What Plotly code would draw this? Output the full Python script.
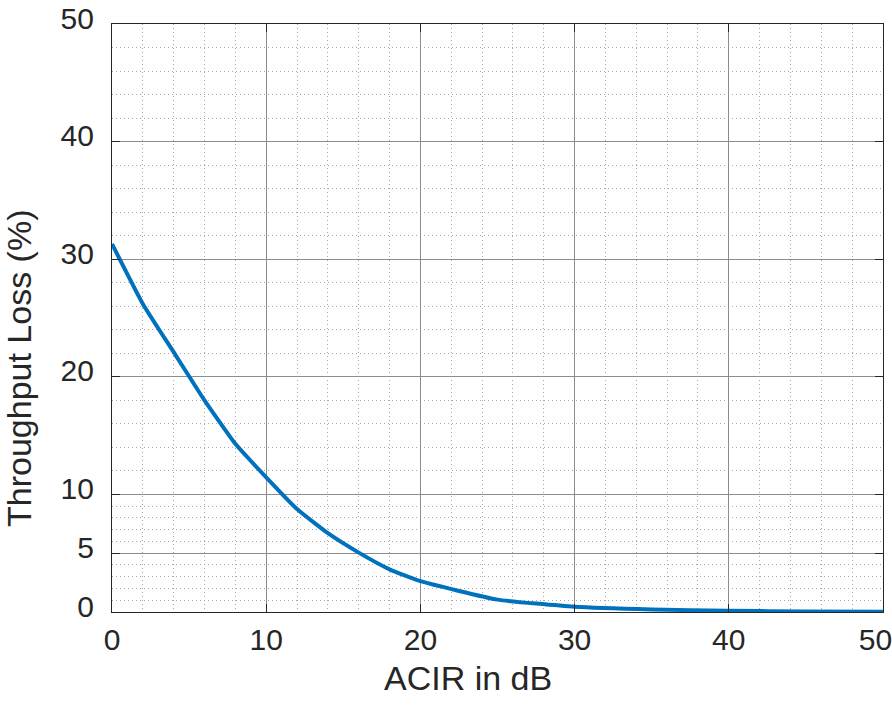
import plotly.graph_objects as go

# Data
acir_db = [0, 2, 4, 6, 8, 10, 12, 14, 16, 18, 20, 25, 30, 35, 40, 45, 50]
throughput_loss = [31.3, 26.2, 22.1, 18.0, 14.3, 11.45, 8.75, 6.7, 5.05, 3.63, 2.62,
                   1.05, 0.45, 0.22, 0.1, 0.05, 0.03]

x_ticks = [0, 10, 20, 30, 40, 50]
x_tick_text = ["0", "10", "20", "30", "40", "50\u2002"]
y_ticks = [0, 5, 10, 20, 30, 40, 50]
x_minor = [v for v in range(0, 51, 2) if v % 10 != 0]
y_minor = [v for v in range(1, 10) if v != 5] + [v for v in range(12, 50, 2) if v % 10 != 0]

x_title = "ACIR in dB"
y_title = "Throughput Loss (%)"

FONT = "Liberation Sans, Arial, Helvetica, sans-serif"
TXT = "#262626"
FRAME = "#262626"
GRID = "#8c8c8c"
MINOR = "#a6a6a6"

W, H = 892, 713
ML, MR, MT, MB = 112, 9, 24, 101
PW, PH = W - ML - MR, H - MT - MB

fig = go.Figure()
fig.add_trace(go.Scatter(
    x=acir_db, y=throughput_loss, mode="lines",
    line=dict(color="#0072BD", width=4, shape="spline", smoothing=0.4),
    showlegend=False, cliponaxis=False,
))

axis_common = dict(
    showline=True, linecolor=FRAME, linewidth=1.3, mirror="ticks",
    ticks="inside", ticklen=8, tickcolor=FRAME, tickwidth=1.3,
    showgrid=True, gridcolor=GRID, gridwidth=1,
    zeroline=False, automargin=False, ticklabeloverflow="allow",
    tickfont=dict(family=FONT, size=30, color=TXT),
)

fig.update_xaxes(
    **axis_common,
    range=[0, 50], tickmode="array", tickvals=x_ticks, ticktext=x_tick_text,
    ticklabelstandoff=1,
    minor=dict(tickmode="array", tickvals=x_minor, showgrid=True,
               gridcolor=MINOR, gridwidth=1, griddash="1px,3px", ticks=""),
)
fig.update_yaxes(
    **axis_common,
    range=[0, 50], tickmode="array", tickvals=y_ticks,
    ticklabelstandoff=11, ticklabelshift=-6,
    minor=dict(tickmode="array", tickvals=y_minor, showgrid=True,
               gridcolor=MINOR, gridwidth=1, griddash="1px,3px", ticks=""),
)

# axis titles placed as annotations (pixel positions measured on the reference)
fig.add_annotation(
    text=x_title, xref="paper", yref="paper",
    x=(468 - ML) / PW, y=(H - MB - 678) / PH,
    xanchor="center", yanchor="middle", showarrow=False,
    font=dict(family=FONT, size=34, color=TXT),
)
fig.add_annotation(
    text=y_title, xref="paper", yref="paper",
    x=(19 - ML) / PW, y=(H - MB - 368) / PH, textangle=-90,
    xanchor="center", yanchor="middle", showarrow=False,
    font=dict(family=FONT, size=34, color=TXT),
)

fig.update_layout(
    width=W, height=H,
    margin=dict(l=ML, r=MR, t=MT, b=MB, pad=0),
    plot_bgcolor="white", paper_bgcolor="white",
    font=dict(family=FONT, color=TXT),
)

fig.write_html(
    "out.html",
    config={"displayModeBar": False},
    post_script="document.body.style.margin='0px';document.body.style.overflow='hidden';",
)
